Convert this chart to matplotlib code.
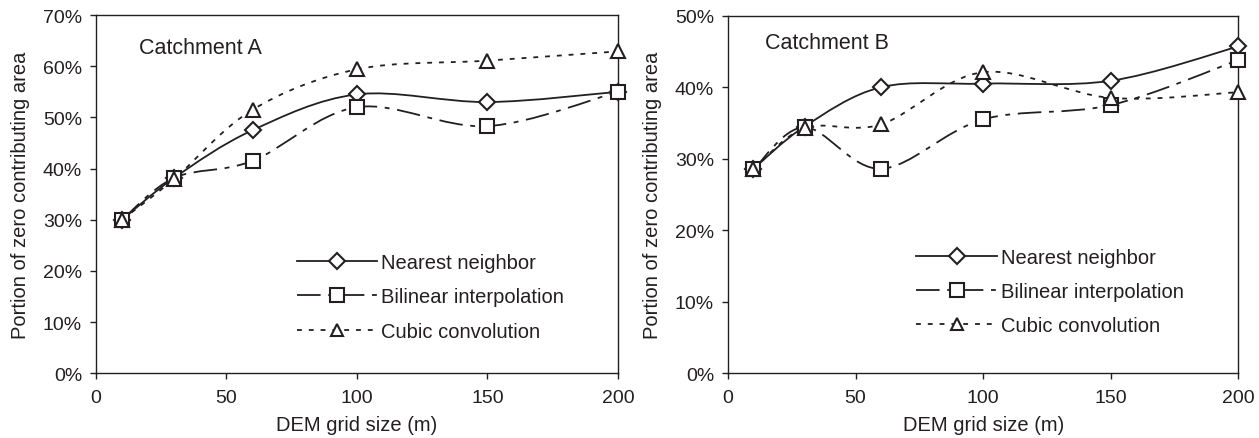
import matplotlib as mpl
mpl.use('Agg')
import numpy as np
import matplotlib.pyplot as plt
from matplotlib.path import Path
from matplotlib.patches import PathPatch
from matplotlib.lines import Line2D
from matplotlib.ticker import FuncFormatter

plt.rcParams['font.family'] = ['Liberation Sans', 'DejaVu Sans']
plt.rcParams['lines.scale_dashes'] = False

# DEM grid sizes (m)
grid_size = [10, 30, 60, 100, 150, 200]

# Portion of zero contributing area (%), catchment A
a_nearest = [30.0, 38.2, 47.5, 54.5, 53.0, 55.0]
a_bilinear = [30.0, 38.2, 41.5, 52.0, 48.3, 55.0]
a_cubic = [30.0, 38.0, 51.5, 59.4, 61.1, 62.9]

# Portion of zero contributing area (%), catchment B
b_nearest = [28.6, 34.5, 40.0, 40.5, 40.9, 45.7]
b_bilinear = [28.5, 34.4, 28.6, 35.5, 37.5, 43.8]
b_cubic = [28.5, 34.3, 34.8, 42.1, 38.5, 39.3]

methods = ['Nearest neighbor', 'Bilinear interpolation', 'Cubic convolution']

INK = '#231f20'
LW = 1.3
FS = 14.5
styles = [
    dict(ls='-', marker='D', ms=8.5),
    dict(ls=(0, (17, 5.5, 3.5, 5.5)), marker='s', ms=10.5),
    dict(ls=(0, (3.5, 5)), marker='^', ms=10),
]


def smooth_path(x, y):
    # Catmull-Rom curve through the points, as cubic Bezier segments
    p = np.column_stack([x, y]).astype(float)
    ext = np.vstack([p[0], p, p[-1]])
    verts = [p[0]]
    codes = [Path.MOVETO]
    for i in range(len(p) - 1):
        p0, p1, p2, p3 = ext[i], ext[i + 1], ext[i + 2], ext[i + 3]
        verts += [p1 + (p2 - p0) / 6, p2 - (p3 - p1) / 6, p2]
        codes += [Path.CURVE4] * 3
    return Path(verts, codes)


def draw_panel(ax, series, ymax, title, tx, ty):
    for vals, st in zip(series, styles):
        patch = PathPatch(smooth_path(grid_size, vals), fill=False, edgecolor=INK,
                          lw=LW, linestyle=st['ls'], zorder=2)
        ax.add_patch(patch)
    for vals, st in zip(series, styles):
        ax.plot(grid_size, vals, linestyle='none', marker=st['marker'], ms=st['ms'],
                mfc='white', mec=INK, mew=1.5, zorder=3, clip_on=False)
    ax.set_xlim(0, 200)
    ax.set_ylim(0, ymax)
    ax.set_xticks(np.arange(0, 201, 50))
    ax.set_yticks(np.arange(0, ymax + 1, 10))
    ax.yaxis.set_major_formatter(FuncFormatter(lambda v, _: '%d%%' % v))
    ax.tick_params(direction='out', length=4, width=1, color=INK, labelsize=14,
                   labelcolor=INK, top=False, right=False)
    ax.tick_params(axis='y', pad=6)
    ax.tick_params(axis='x', pad=7)
    for s in ax.spines.values():
        s.set_color(INK)
        s.set_linewidth(1.0)
    ax.set_xlabel('DEM grid size (m)', fontsize=FS, color=INK, labelpad=7)
    ax.set_ylabel('Portion of zero contributing area', fontsize=FS, color=INK, labelpad=9)
    ax.text(tx, ty, title, transform=ax.transAxes, fontsize=15.5, color=INK, va='center')


fig = plt.figure(figsize=(12.59, 4.39), dpi=100)
ax1 = fig.add_axes([0.0762, 0.1474, 0.4146, 0.8160])
ax2 = fig.add_axes([0.5782, 0.1474, 0.4055, 0.8146])

draw_panel(ax1, [a_nearest, a_bilinear, a_cubic], 70, 'Catchment A', 0.082, 0.91)
draw_panel(ax2, [b_nearest, b_bilinear, b_cubic], 50, 'Catchment B', 0.073, 0.926)

handles = [Line2D([], [], color=INK, lw=LW, linestyle=st['ls'], marker=st['marker'],
                  ms=st['ms'] * 0.9, mfc='white', mec=INK, mew=1.5) for st in styles]
for ax, x0, y0 in [(ax1, 0.385, 0.213), (ax2, 0.369, 0.228)]:
    ax.legend(handles, methods, loc='center left', bbox_to_anchor=(x0, y0),
              frameon=False, fontsize=FS, handlelength=4.0, handletextpad=0.2,
              labelspacing=0.75, borderpad=0, borderaxespad=0, labelcolor=INK)

plt.savefig('out.png', dpi=100)
plt.close(fig)
